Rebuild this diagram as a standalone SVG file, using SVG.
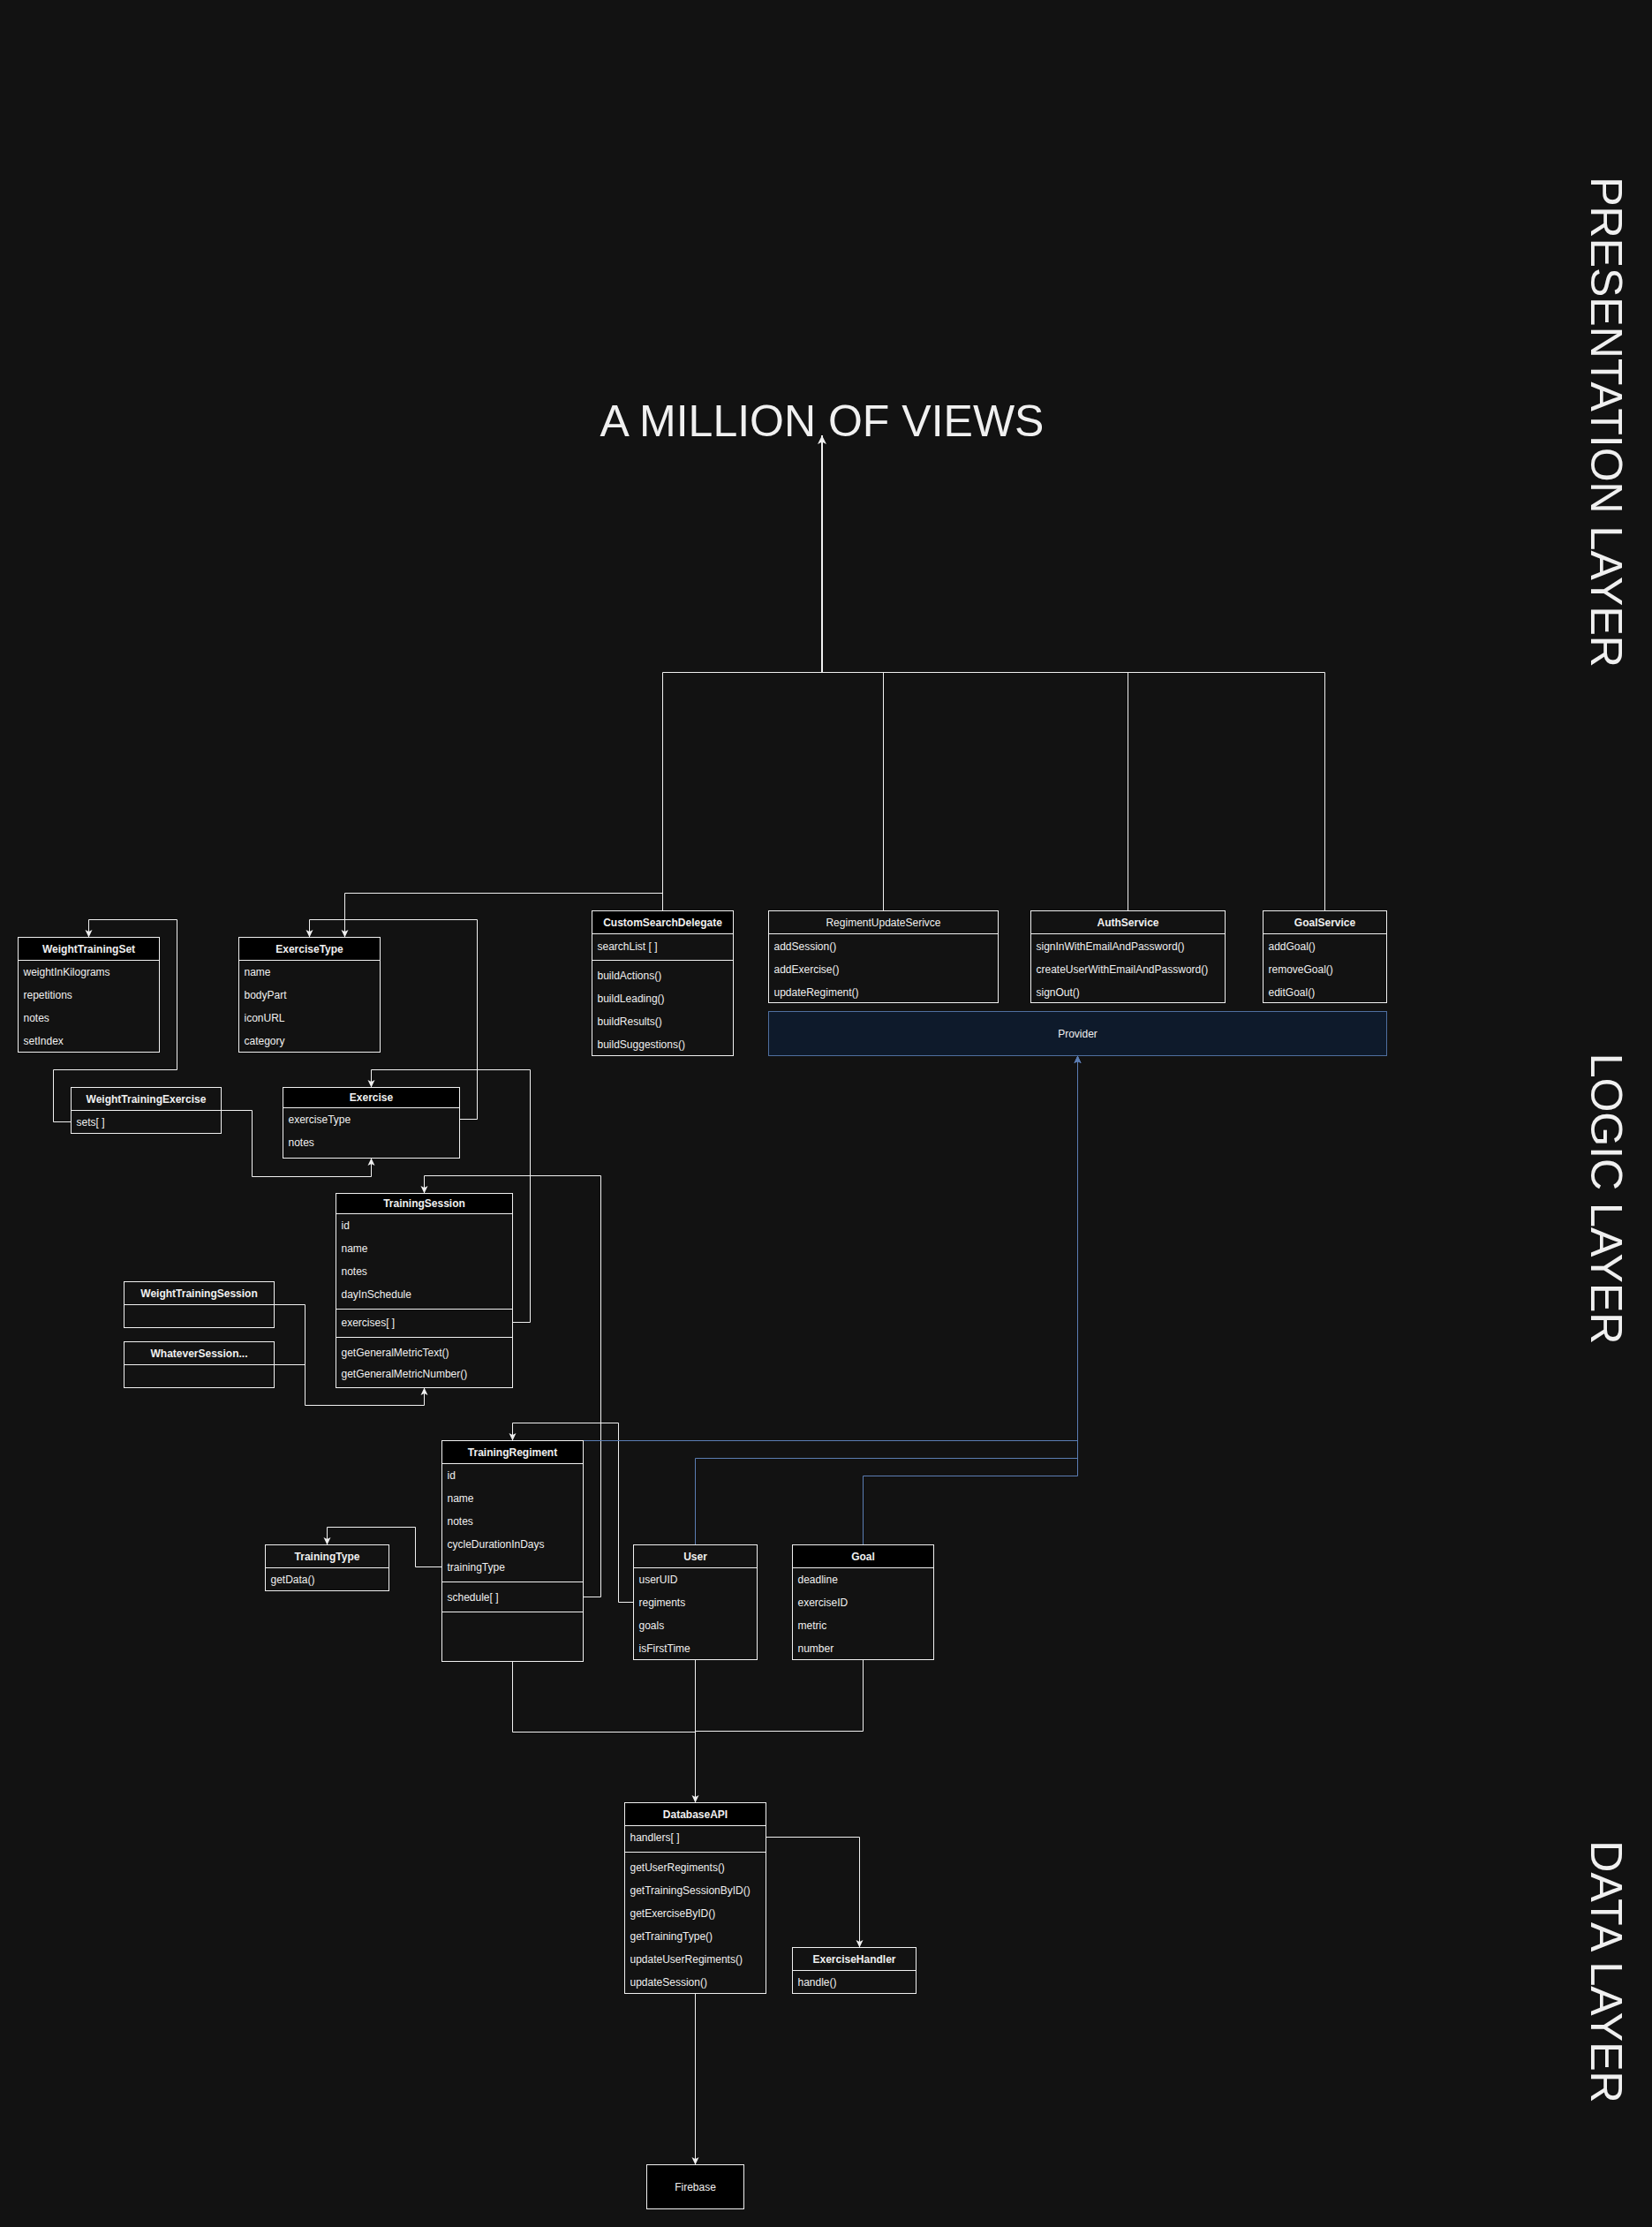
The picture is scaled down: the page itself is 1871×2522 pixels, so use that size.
<svg xmlns="http://www.w3.org/2000/svg" width="1871" height="2522" viewBox="0 0 1871 2522">
<defs>
<style>
text{font-family:"Liberation Sans",Arial,Helvetica,sans-serif;fill:#f0f0f0;}
.box{fill:#121212;stroke:#f0f0f0;stroke-width:1;}
.hdr{fill:#000000;stroke:#f0f0f0;stroke-width:1;}
.sep{stroke:#f0f0f0;stroke-width:1;fill:none;}
.t{font-size:12px;}
.b{font-size:12px;font-weight:bold;text-anchor:middle;}
.n{font-size:12px;text-anchor:middle;}
.big{font-size:50px;text-anchor:middle;}
.ln{fill:none;stroke:#f0f0f0;stroke-width:1;}
.lb{fill:none;stroke:#5b7db3;stroke-width:1;}
</style>
<marker id="arr" viewBox="-10 -5 11 10" refX="0" refY="0" markerWidth="11" markerHeight="10" markerUnits="userSpaceOnUse" orient="auto">
<path d="M0,0 L-8.5,-4 L-6.5,0 L-8.5,4 Z" fill="#f0f0f0"/>
</marker>
<marker id="arrBig" viewBox="-12 -6 13 12" refX="0" refY="0" markerWidth="13" markerHeight="12" markerUnits="userSpaceOnUse" orient="auto">
<path d="M0,0 L-10,-5 L-7.5,0 L-10,5 Z" fill="#f0f0f0"/>
</marker>
<marker id="arrBlue" viewBox="-10 -5 11 10" refX="0" refY="0" markerWidth="11" markerHeight="10" markerUnits="userSpaceOnUse" orient="auto">
<path d="M0,0 L-8.5,-4 L-6.5,0 L-8.5,4 Z" fill="#5b7db3"/>
</marker>
</defs>
<rect x="0" y="0" width="1871" height="2522" fill="#121212"/>

<g id="labels">
<text class="big" x="931" y="493.5">A MILLION OF VIEWS</text>
<text class="big" transform="translate(1802,478) rotate(90)" x="0" y="0">PRESENTATION LAYER</text>
<text class="big" transform="translate(1802,1357.5) rotate(90)" x="0" y="0">LOGIC LAYER</text>
<text class="big" transform="translate(1802,2233) rotate(90)" x="0" y="0">DATA LAYER</text>
</g>

<g id="connectors">
<path class="ln" style="stroke-width:2" d="M931,761.5 V493" marker-end="url(#arrBig)"/>
<path class="ln" d="M750.5,1031.5 V761.5 H1500.5 V1031.5"/>
<path class="ln" d="M1000.5,761.5 V1031.5"/>
<path class="ln" d="M1277.5,761.5 V1031.5"/>
<path class="ln" d="M750.5,1011.5 H390.5 V1061.5" marker-end="url(#arr)"/>
<path class="ln" d="M520.5,1267.5 H540.5 V1041.5 H350.5 V1061.5" marker-end="url(#arr)"/>
<path class="ln" d="M80.5,1270.5 H60.5 V1211.5 H200.5 V1041.5 H100.5 V1061.5" marker-end="url(#arr)"/>
<path class="ln" d="M250.5,1257.5 H285.5 V1332.5 H420.5 V1311.5" marker-end="url(#arr)"/>
<path class="ln" d="M580.5,1497.5 H600.5 V1211.5 H420.5 V1231.5" marker-end="url(#arr)"/>
<path class="ln" d="M660.5,1808.5 H680.5 V1331.5 H480.5 V1351.5" marker-end="url(#arr)"/>
<path class="ln" d="M310.5,1477.5 H345.5 V1591.5 H480.5 V1571.5" marker-end="url(#arr)"/>
<path class="ln" d="M310.5,1545.5 H345.5"/>
<path class="ln" d="M717.5,1814.5 H700.5 V1611.5 H580.5 V1631.5" marker-end="url(#arr)"/>
<path class="ln" d="M500.5,1774.5 H470.5 V1729.5 H370.5 V1749.5" marker-end="url(#arr)"/>
<path class="lb" d="M660.5,1631.5 H1220.5 V1195.5" marker-end="url(#arrBlue)"/>
<path class="lb" d="M787.5,1749.5 V1651.5 H1220.5 V1195.5" marker-end="url(#arrBlue)"/>
<path class="lb" d="M977.5,1749.5 V1671.5 H1220.5 V1195.5" marker-end="url(#arrBlue)"/>
<path class="ln" d="M787.5,1879.5 V2041.5" marker-end="url(#arr)"/>
<path class="ln" d="M580.5,1881.5 V1961.5 H787.5"/>
<path class="ln" d="M977.5,1879.5 V1960.5 H787.5"/>
<path class="ln" d="M867.5,2080.5 H973.5 V2205.5" marker-end="url(#arr)"/>
<path class="ln" d="M787.5,2257.5 V2451.5" marker-end="url(#arr)"/>
</g>

<g id="WeightTrainingSet">
<rect class="box" x="20.5" y="1061.5" width="160" height="130"/>
<rect class="hdr" x="20.5" y="1061.5" width="160" height="26"/>
<text class="b" x="100.5" y="1078.5">WeightTrainingSet</text>
<text class="t" x="26.5" y="1104.5">weightInKilograms</text>
<text class="t" x="26.5" y="1130.5">repetitions</text>
<text class="t" x="26.5" y="1156.5">notes</text>
<text class="t" x="26.5" y="1182.5">setIndex</text>
</g>

<g id="ExerciseType">
<rect class="box" x="270.5" y="1061.5" width="160" height="130"/>
<rect class="hdr" x="270.5" y="1061.5" width="160" height="26"/>
<text class="b" x="350.5" y="1078.5">ExerciseType</text>
<text class="t" x="276.5" y="1104.5">name</text>
<text class="t" x="276.5" y="1130.5">bodyPart</text>
<text class="t" x="276.5" y="1156.5">iconURL</text>
<text class="t" x="276.5" y="1182.5">category</text>
</g>

<g id="WeightTrainingExercise">
<rect class="box" x="80.5" y="1231.5" width="170" height="52"/>
<line class="sep" x1="80.5" y1="1257.5" x2="250.5" y2="1257.5"/>
<text class="b" x="165.5" y="1248.5">WeightTrainingExercise</text>
<text class="t" x="86.5" y="1274.5">sets[ ]</text>
</g>

<g id="Exercise">
<rect class="box" x="320.5" y="1231.5" width="200" height="80"/>
<rect class="hdr" x="320.5" y="1231.5" width="200" height="23"/>
<text class="b" x="420.5" y="1247">Exercise</text>
<text class="t" x="326.5" y="1271.5">exerciseType</text>
<text class="t" x="326.5" y="1297.5">notes</text>
</g>

<g id="TrainingSession">
<rect class="box" x="380.5" y="1351.5" width="200" height="220"/>
<rect class="hdr" x="380.5" y="1351.5" width="200" height="23"/>
<text class="b" x="480.5" y="1367">TrainingSession</text>
<text class="t" x="386.5" y="1391.5">id</text>
<text class="t" x="386.5" y="1417.5">name</text>
<text class="t" x="386.5" y="1443.5">notes</text>
<text class="t" x="386.5" y="1469.5">dayInSchedule</text>
<line class="sep" x1="380.5" y1="1482.5" x2="580.5" y2="1482.5"/>
<text class="t" x="386.5" y="1501.5">exercises[ ]</text>
<line class="sep" x1="380.5" y1="1514.5" x2="580.5" y2="1514.5"/>
<text class="t" x="386.5" y="1535.5">getGeneralMetricText()</text>
<text class="t" x="386.5" y="1559.5">getGeneralMetricNumber()</text>
</g>

<g id="WeightTrainingSession">
<rect class="box" x="140.5" y="1451.5" width="170" height="52"/>
<line class="sep" x1="140.5" y1="1477.5" x2="310.5" y2="1477.5"/>
<text class="b" x="225.5" y="1468.5">WeightTrainingSession</text>
</g>

<g id="WhateverSession">
<rect class="box" x="140.5" y="1519.5" width="170" height="52"/>
<line class="sep" x1="140.5" y1="1545.5" x2="310.5" y2="1545.5"/>
<text class="b" x="225.5" y="1536.5">WhateverSession...</text>
</g>

<g id="CustomSearchDelegate">
<rect class="box" x="670.5" y="1031.5" width="160" height="164"/>
<rect class="hdr" x="670.5" y="1031.5" width="160" height="26"/>
<text class="b" x="750.5" y="1048.5">CustomSearchDelegate</text>
<text class="t" x="676.5" y="1075.5">searchList [ ]</text>
<line class="sep" x1="670.5" y1="1087.5" x2="830.5" y2="1087.5"/>
<text class="t" x="676.5" y="1109">buildActions()</text>
<text class="t" x="676.5" y="1135">buildLeading()</text>
<text class="t" x="676.5" y="1161">buildResults()</text>
<text class="t" x="676.5" y="1187">buildSuggestions()</text>
</g>

<g id="RegimentUpdateSerivce">
<rect class="box" x="870.5" y="1031.5" width="260" height="104"/>
<line class="sep" x1="870.5" y1="1057.5" x2="1130.5" y2="1057.5"/>
<text class="n" x="1000.5" y="1048.5">RegimentUpdateSerivce</text>
<text class="t" x="876.5" y="1075.5">addSession()</text>
<text class="t" x="876.5" y="1101.5">addExercise()</text>
<text class="t" x="876.5" y="1127.5">updateRegiment()</text>
</g>

<g id="AuthService">
<rect class="box" x="1167.5" y="1031.5" width="220" height="104"/>
<line class="sep" x1="1167.5" y1="1057.5" x2="1387.5" y2="1057.5"/>
<text class="b" x="1277.5" y="1048.5">AuthService</text>
<text class="t" x="1173.5" y="1075.5">signInWithEmailAndPassword()</text>
<text class="t" x="1173.5" y="1101.5">createUserWithEmailAndPassword()</text>
<text class="t" x="1173.5" y="1127.5">signOut()</text>
</g>

<g id="GoalService">
<rect class="box" x="1430.5" y="1031.5" width="140" height="104"/>
<line class="sep" x1="1430.5" y1="1057.5" x2="1570.5" y2="1057.5"/>
<text class="b" x="1500.5" y="1048.5">GoalService</text>
<text class="t" x="1436.5" y="1075.5">addGoal()</text>
<text class="t" x="1436.5" y="1101.5">removeGoal()</text>
<text class="t" x="1436.5" y="1127.5">editGoal()</text>
</g>

<g id="Provider">
<rect x="870.5" y="1145.5" width="700" height="50" fill="#0e1a2b" stroke="#4f6f9f" stroke-width="1"/>
<text class="n" x="1220.5" y="1174.5">Provider</text>
</g>

<g id="TrainingRegiment">
<rect class="box" x="500.5" y="1631.5" width="160" height="250"/>
<rect class="hdr" x="500.5" y="1631.5" width="160" height="26"/>
<text class="b" x="580.5" y="1648.5">TrainingRegiment</text>
<text class="t" x="506.5" y="1674.5">id</text>
<text class="t" x="506.5" y="1700.5">name</text>
<text class="t" x="506.5" y="1726.5">notes</text>
<text class="t" x="506.5" y="1752.5">cycleDurationInDays</text>
<text class="t" x="506.5" y="1778.5">trainingType</text>
<line class="sep" x1="500.5" y1="1791.5" x2="660.5" y2="1791.5"/>
<text class="t" x="506.5" y="1812.5">schedule[ ]</text>
<line class="sep" x1="500.5" y1="1825.5" x2="660.5" y2="1825.5"/>
</g>

<g id="TrainingType">
<rect class="box" x="300.5" y="1749.5" width="140" height="52"/>
<line class="sep" x1="300.5" y1="1775.5" x2="440.5" y2="1775.5"/>
<text class="b" x="370.5" y="1766.5">TrainingType</text>
<text class="t" x="306.5" y="1792.5">getData()</text>
</g>

<g id="User">
<rect class="box" x="717.5" y="1749.5" width="140" height="130"/>
<line class="sep" x1="717.5" y1="1775.5" x2="857.5" y2="1775.5"/>
<text class="b" x="787.5" y="1766.5">User</text>
<text class="t" x="723.5" y="1792.5">userUID</text>
<text class="t" x="723.5" y="1818.5">regiments</text>
<text class="t" x="723.5" y="1844.5">goals</text>
<text class="t" x="723.5" y="1870.5">isFirstTime</text>
</g>

<g id="Goal">
<rect class="box" x="897.5" y="1749.5" width="160" height="130"/>
<rect class="hdr" x="897.5" y="1749.5" width="160" height="26"/>
<text class="b" x="977.5" y="1766.5">Goal</text>
<text class="t" x="903.5" y="1792.5">deadline</text>
<text class="t" x="903.5" y="1818.5">exerciseID</text>
<text class="t" x="903.5" y="1844.5">metric</text>
<text class="t" x="903.5" y="1870.5">number</text>
</g>

<g id="DatabaseAPI">
<rect class="box" x="707.5" y="2041.5" width="160" height="216"/>
<rect class="hdr" x="707.5" y="2041.5" width="160" height="26"/>
<text class="b" x="787.5" y="2058.5">DatabaseAPI</text>
<text class="t" x="713.5" y="2084.5">handlers[ ]</text>
<line class="sep" x1="707.5" y1="2097.5" x2="867.5" y2="2097.5"/>
<text class="t" x="713.5" y="2118.5">getUserRegiments()</text>
<text class="t" x="713.5" y="2144.5">getTrainingSessionByID()</text>
<text class="t" x="713.5" y="2170.5">getExerciseByID()</text>
<text class="t" x="713.5" y="2196.5">getTrainingType()</text>
<text class="t" x="713.5" y="2222.5">updateUserRegiments()</text>
<text class="t" x="713.5" y="2248.5">updateSession()</text>
</g>

<g id="ExerciseHandler">
<rect class="box" x="897.5" y="2205.5" width="140" height="52"/>
<line class="sep" x1="897.5" y1="2231.5" x2="1037.5" y2="2231.5"/>
<text class="b" x="967.5" y="2222.5">ExerciseHandler</text>
<text class="t" x="903.5" y="2248.5">handle()</text>
</g>

<g id="Firebase">
<rect class="hdr" x="732.5" y="2451.5" width="110" height="50"/>
<text class="n" x="787.5" y="2480.5">Firebase</text>
</g>
</svg>
